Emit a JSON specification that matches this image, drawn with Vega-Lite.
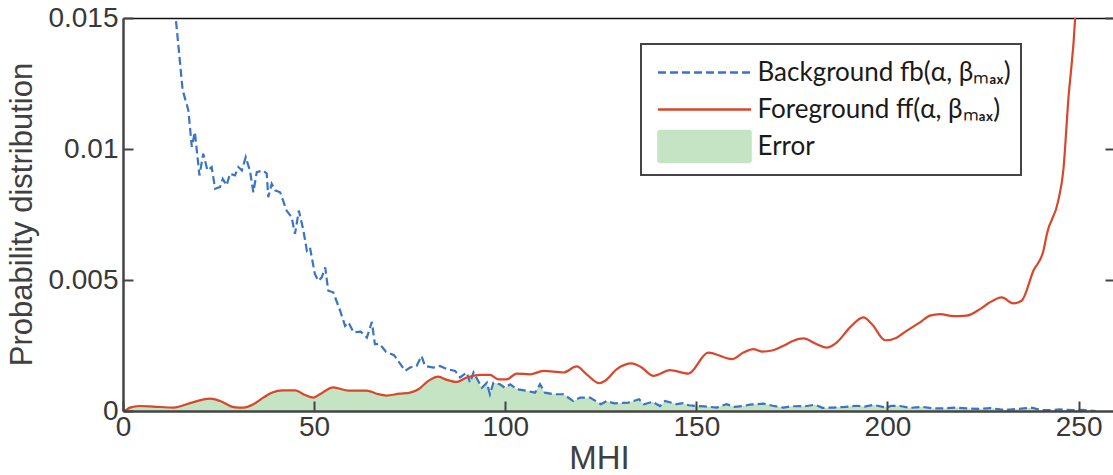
{
  "$schema": "https://vega.github.io/schema/vega-lite/v6.json",
  "width": 990,
  "height": 393,
  "autosize": {"type": "none"},
  "padding": {"left": 123, "top": 18, "right": 0, "bottom": 64},
  "background": "white",
  "config": {
    "view": {"stroke": null},
    "font": "Liberation Sans",
    "axis": {"grid": false, "labelFlush": false, "labelOverlap": false}
  },
  "datasets": {
    "background": [
      {"mhi": 1, "p": 0.04}, {"mhi": 5, "p": 0.03}, {"mhi": 10, "p": 0.0205},
      {"mhi": 13.8, "p": 0.015}, {"mhi": 15.6, "p": 0.01225}, {"mhi": 17.1, "p": 0.01148},
      {"mhi": 18.0, "p": 0.01008}, {"mhi": 18.8, "p": 0.01065}, {"mhi": 20.0, "p": 0.00899},
      {"mhi": 21.0, "p": 0.00982}, {"mhi": 22.1, "p": 0.00918}, {"mhi": 23.2, "p": 0.00931},
      {"mhi": 24.1, "p": 0.00848}, {"mhi": 25.4, "p": 0.00855}, {"mhi": 26.1, "p": 0.00886},
      {"mhi": 27.1, "p": 0.00861}, {"mhi": 28.0, "p": 0.00906}, {"mhi": 29.3, "p": 0.00899},
      {"mhi": 30.2, "p": 0.00931}, {"mhi": 31.1, "p": 0.00918}, {"mhi": 32.1, "p": 0.00969},
      {"mhi": 33.2, "p": 0.00918}, {"mhi": 34.1, "p": 0.00835}, {"mhi": 35.0, "p": 0.00912},
      {"mhi": 36.7, "p": 0.00918}, {"mhi": 37.6, "p": 0.00906}, {"mhi": 38.0, "p": 0.00816},
      {"mhi": 38.9, "p": 0.00867}, {"mhi": 39.8, "p": 0.00842}, {"mhi": 41.1, "p": 0.00835},
      {"mhi": 42.8, "p": 0.00765}, {"mhi": 44.1, "p": 0.0074}, {"mhi": 45.0, "p": 0.00676},
      {"mhi": 46.0, "p": 0.00765}, {"mhi": 47.2, "p": 0.00689}, {"mhi": 48.1, "p": 0.00612},
      {"mhi": 48.9, "p": 0.00625}, {"mhi": 50.2, "p": 0.00523}, {"mhi": 51.1, "p": 0.00497},
      {"mhi": 52.0, "p": 0.0051}, {"mhi": 52.9, "p": 0.00548}, {"mhi": 53.7, "p": 0.00459},
      {"mhi": 55.0, "p": 0.00453}, {"mhi": 56.8, "p": 0.00383}, {"mhi": 58.1, "p": 0.00325},
      {"mhi": 59.0, "p": 0.00338}, {"mhi": 60.3, "p": 0.003}, {"mhi": 62.2, "p": 0.00303},
      {"mhi": 63.8, "p": 0.0028}, {"mhi": 65.1, "p": 0.0034}, {"mhi": 65.9, "p": 0.00255},
      {"mhi": 67.2, "p": 0.00255}, {"mhi": 68.8, "p": 0.00226}, {"mhi": 70.9, "p": 0.00213},
      {"mhi": 72.3, "p": 0.00185}, {"mhi": 73.8, "p": 0.00153}, {"mhi": 75.1, "p": 0.00166},
      {"mhi": 76.8, "p": 0.00172}, {"mhi": 78.1, "p": 0.0021}, {"mhi": 79.0, "p": 0.00172},
      {"mhi": 81.2, "p": 0.00166}, {"mhi": 82.9, "p": 0.00172}, {"mhi": 84.7, "p": 0.0016},
      {"mhi": 86.9, "p": 0.00153}, {"mhi": 88.2, "p": 0.00128}, {"mhi": 89.9, "p": 0.00147},
      {"mhi": 90.8, "p": 0.00108}, {"mhi": 91.7, "p": 0.00147}, {"mhi": 93.9, "p": 0.00089},
      {"mhi": 95.2, "p": 0.00108}, {"mhi": 96.0, "p": 0.00064}, {"mhi": 96.9, "p": 0.00108},
      {"mhi": 98.6, "p": 0.00102}, {"mhi": 99.9, "p": 0.00089}, {"mhi": 101.3, "p": 0.00102},
      {"mhi": 103.0, "p": 0.00083}, {"mhi": 105.6, "p": 0.00077}, {"mhi": 107.8, "p": 0.0007},
      {"mhi": 109.1, "p": 0.00102}, {"mhi": 110.4, "p": 0.0007}, {"mhi": 112.6, "p": 0.00064},
      {"mhi": 115.2, "p": 0.00064}, {"mhi": 117.8, "p": 0.00038}, {"mhi": 119.6, "p": 0.00051},
      {"mhi": 122.2, "p": 0.00051}, {"mhi": 125.0, "p": 0.00026}, {"mhi": 126.6, "p": 0.00038},
      {"mhi": 128.5, "p": 0.00029}, {"mhi": 132.2, "p": 0.00032}, {"mhi": 135.0, "p": 0.00045},
      {"mhi": 136.3, "p": 0.00026}, {"mhi": 138.5, "p": 0.00035}, {"mhi": 140.5, "p": 0.00019},
      {"mhi": 141.8, "p": 0.00038}, {"mhi": 144.9, "p": 0.00026}, {"mhi": 146.5, "p": 0.0003},
      {"mhi": 148.0, "p": 0.00022}, {"mhi": 150.1, "p": 0.00019}, {"mhi": 152.0, "p": 0.00018},
      {"mhi": 155.3, "p": 0.00013}, {"mhi": 157.9, "p": 0.00026}, {"mhi": 160.0, "p": 0.00016},
      {"mhi": 162.3, "p": 0.00019}, {"mhi": 164.0, "p": 0.00024}, {"mhi": 167.5, "p": 0.00028},
      {"mhi": 170.0, "p": 0.0002}, {"mhi": 172.8, "p": 0.00013}, {"mhi": 175.0, "p": 0.00018},
      {"mhi": 178.9, "p": 0.00019}, {"mhi": 181.0, "p": 0.00024}, {"mhi": 183.0, "p": 0.00012},
      {"mhi": 185.8, "p": 0.00013}, {"mhi": 189.0, "p": 0.00016}, {"mhi": 192.0, "p": 0.0002},
      {"mhi": 194.0, "p": 0.00017}, {"mhi": 196.3, "p": 0.00023}, {"mhi": 199.8, "p": 0.00013},
      {"mhi": 201.0, "p": 0.0002}, {"mhi": 203.3, "p": 0.00019}, {"mhi": 206.0, "p": 0.00012},
      {"mhi": 209.0, "p": 0.00016}, {"mhi": 212.0, "p": 0.0001}, {"mhi": 215.0, "p": 0.0001},
      {"mhi": 218.0, "p": 0.00013}, {"mhi": 220.7, "p": 0.0001}, {"mhi": 224.0, "p": 0.00008},
      {"mhi": 227.0, "p": 0.00011}, {"mhi": 229.5, "p": 0.00006}, {"mhi": 232.0, "p": 0.00005},
      {"mhi": 235.6, "p": 0.0001}, {"mhi": 238.0, "p": 0.00012}, {"mhi": 240.0, "p": 0.00004},
      {"mhi": 242.5, "p": 0.00003}, {"mhi": 245.0, "p": 0.00006}, {"mhi": 248.6, "p": 0.00003},
      {"mhi": 251.0, "p": 0.00004}, {"mhi": 254.5, "p": 0.0}
    ],
    "foreground": [
      {"mhi": 0, "p": 0}, {"mhi": 0.5, "p": 0.00002}, {"mhi": 1.8, "p": 0.00013},
      {"mhi": 4.4, "p": 0.00019}, {"mhi": 7.9, "p": 0.00017}, {"mhi": 13.2, "p": 0.00013},
      {"mhi": 18.4, "p": 0.00034}, {"mhi": 22.8, "p": 0.00047}, {"mhi": 25.4, "p": 0.00038},
      {"mhi": 28.9, "p": 0.00015}, {"mhi": 31.5, "p": 0.00013}, {"mhi": 34.1, "p": 0.00026},
      {"mhi": 36.7, "p": 0.00051}, {"mhi": 38.9, "p": 0.0007}, {"mhi": 41.9, "p": 0.00079},
      {"mhi": 45.0, "p": 0.00079}, {"mhi": 47.6, "p": 0.00061}, {"mhi": 49.8, "p": 0.00051},
      {"mhi": 51.5, "p": 0.00064}, {"mhi": 55.0, "p": 0.0009}, {"mhi": 59.0, "p": 0.00078},
      {"mhi": 63.8, "p": 0.00078}, {"mhi": 66.4, "p": 0.00066}, {"mhi": 69.0, "p": 0.00059},
      {"mhi": 72.3, "p": 0.00066}, {"mhi": 75.1, "p": 0.0007}, {"mhi": 77.3, "p": 0.00083},
      {"mhi": 79.9, "p": 0.00115}, {"mhi": 82.5, "p": 0.00131}, {"mhi": 84.7, "p": 0.00119},
      {"mhi": 87.3, "p": 0.00111}, {"mhi": 89.9, "p": 0.00128}, {"mhi": 93.4, "p": 0.00138},
      {"mhi": 96.0, "p": 0.00138}, {"mhi": 98.2, "p": 0.00121}, {"mhi": 100.4, "p": 0.00121},
      {"mhi": 103.0, "p": 0.00143}, {"mhi": 106.5, "p": 0.0014}, {"mhi": 110.0, "p": 0.00153},
      {"mhi": 115.2, "p": 0.00147}, {"mhi": 118.7, "p": 0.0017}, {"mhi": 121.3, "p": 0.0014},
      {"mhi": 124.6, "p": 0.00106}, {"mhi": 126.1, "p": 0.00115}, {"mhi": 129.2, "p": 0.0016},
      {"mhi": 133.1, "p": 0.00182}, {"mhi": 135.5, "p": 0.00168}, {"mhi": 138.8, "p": 0.00134},
      {"mhi": 143.1, "p": 0.00156}, {"mhi": 147.9, "p": 0.00143}, {"mhi": 153.1, "p": 0.00223},
      {"mhi": 159.3, "p": 0.00198}, {"mhi": 162.3, "p": 0.00223}, {"mhi": 164.9, "p": 0.00236},
      {"mhi": 167.1, "p": 0.00227}, {"mhi": 170.1, "p": 0.00232}, {"mhi": 172.8, "p": 0.00249},
      {"mhi": 175.4, "p": 0.00268}, {"mhi": 178.0, "p": 0.00277}, {"mhi": 181.5, "p": 0.00255},
      {"mhi": 184.1, "p": 0.00242}, {"mhi": 186.7, "p": 0.00261}, {"mhi": 190.2, "p": 0.00319},
      {"mhi": 193.7, "p": 0.00357}, {"mhi": 195.9, "p": 0.00332}, {"mhi": 199.4, "p": 0.0027},
      {"mhi": 202.4, "p": 0.0028}, {"mhi": 205.0, "p": 0.00306}, {"mhi": 208.5, "p": 0.00338},
      {"mhi": 211.1, "p": 0.00364}, {"mhi": 213.8, "p": 0.0037}, {"mhi": 217.2, "p": 0.00362},
      {"mhi": 220.7, "p": 0.00364}, {"mhi": 224.2, "p": 0.00389}, {"mhi": 226.4, "p": 0.00411},
      {"mhi": 229.9, "p": 0.00434}, {"mhi": 232.9, "p": 0.00411}, {"mhi": 235.1, "p": 0.00421},
      {"mhi": 238.2, "p": 0.00536}, {"mhi": 240.8, "p": 0.00612}, {"mhi": 241.7, "p": 0.00676},
      {"mhi": 244.7, "p": 0.00804}, {"mhi": 246.0, "p": 0.00918}, {"mhi": 247.3, "p": 0.01186},
      {"mhi": 249.1, "p": 0.015}, {"mhi": 250.0, "p": 0.018}
    ],
    "error": [
      {"mhi": 0, "p": 0}, {"mhi": 0.5, "p": 0.00002}, {"mhi": 1.8, "p": 0.00013},
      {"mhi": 4.4, "p": 0.00019}, {"mhi": 7.9, "p": 0.00017}, {"mhi": 13.2, "p": 0.00013},
      {"mhi": 18.4, "p": 0.00034}, {"mhi": 22.8, "p": 0.00047}, {"mhi": 25.4, "p": 0.00038},
      {"mhi": 28.9, "p": 0.00015}, {"mhi": 31.5, "p": 0.00013}, {"mhi": 34.1, "p": 0.00026},
      {"mhi": 36.7, "p": 0.00051}, {"mhi": 38.9, "p": 0.0007}, {"mhi": 41.9, "p": 0.00079},
      {"mhi": 45.0, "p": 0.00079}, {"mhi": 47.6, "p": 0.00061}, {"mhi": 49.8, "p": 0.00051},
      {"mhi": 51.5, "p": 0.00064}, {"mhi": 55.0, "p": 0.0009}, {"mhi": 59.0, "p": 0.00078},
      {"mhi": 63.8, "p": 0.00078}, {"mhi": 66.4, "p": 0.00066}, {"mhi": 69.0, "p": 0.00059},
      {"mhi": 72.3, "p": 0.00066}, {"mhi": 75.1, "p": 0.0007}, {"mhi": 77.3, "p": 0.00083},
      {"mhi": 79.9, "p": 0.00115}, {"mhi": 82.5, "p": 0.00131}, {"mhi": 84.7, "p": 0.00119},
      {"mhi": 87.3, "p": 0.00111}, {"mhi": 89.9, "p": 0.00128}, {"mhi": 90.8, "p": 0.00108},
      {"mhi": 91.7, "p": 0.00133}, {"mhi": 93.9, "p": 0.00089},
      {"mhi": 95.2, "p": 0.00108}, {"mhi": 96.0, "p": 0.00064}, {"mhi": 96.9, "p": 0.00108},
      {"mhi": 98.6, "p": 0.00102}, {"mhi": 99.9, "p": 0.00089}, {"mhi": 101.3, "p": 0.00102},
      {"mhi": 103.0, "p": 0.00083}, {"mhi": 105.6, "p": 0.00077}, {"mhi": 107.8, "p": 0.0007},
      {"mhi": 109.1, "p": 0.00102}, {"mhi": 110.4, "p": 0.0007}, {"mhi": 112.6, "p": 0.00064},
      {"mhi": 115.2, "p": 0.00064}, {"mhi": 117.8, "p": 0.00038}, {"mhi": 119.6, "p": 0.00051},
      {"mhi": 122.2, "p": 0.00051}, {"mhi": 125.0, "p": 0.00026}, {"mhi": 126.6, "p": 0.00038},
      {"mhi": 128.5, "p": 0.00029}, {"mhi": 132.2, "p": 0.00032}, {"mhi": 135.0, "p": 0.00045},
      {"mhi": 136.3, "p": 0.00026}, {"mhi": 138.5, "p": 0.00035}, {"mhi": 140.5, "p": 0.00019},
      {"mhi": 141.8, "p": 0.00038}, {"mhi": 144.9, "p": 0.00026}, {"mhi": 146.5, "p": 0.0003},
      {"mhi": 148.0, "p": 0.00022}, {"mhi": 150.1, "p": 0.00019}, {"mhi": 152.0, "p": 0.00018},
      {"mhi": 155.3, "p": 0.00013}, {"mhi": 157.9, "p": 0.00026}, {"mhi": 160.0, "p": 0.00016},
      {"mhi": 162.3, "p": 0.00019}, {"mhi": 164.0, "p": 0.00024}, {"mhi": 167.5, "p": 0.00028},
      {"mhi": 170.0, "p": 0.0002}, {"mhi": 172.8, "p": 0.00013}, {"mhi": 175.0, "p": 0.00018},
      {"mhi": 178.9, "p": 0.00019}, {"mhi": 181.0, "p": 0.00024}, {"mhi": 183.0, "p": 0.00012},
      {"mhi": 185.8, "p": 0.00013}, {"mhi": 189.0, "p": 0.00016}, {"mhi": 192.0, "p": 0.0002},
      {"mhi": 194.0, "p": 0.00017}, {"mhi": 196.3, "p": 0.00023}, {"mhi": 199.8, "p": 0.00013},
      {"mhi": 201.0, "p": 0.0002}, {"mhi": 203.3, "p": 0.00019}, {"mhi": 206.0, "p": 0.00012},
      {"mhi": 209.0, "p": 0.00016}, {"mhi": 212.0, "p": 0.0001}, {"mhi": 215.0, "p": 0.0001},
      {"mhi": 218.0, "p": 0.00013}, {"mhi": 220.7, "p": 0.0001}, {"mhi": 224.0, "p": 0.00008},
      {"mhi": 227.0, "p": 0.00011}, {"mhi": 229.5, "p": 0.00006}, {"mhi": 232.0, "p": 0.00005},
      {"mhi": 235.6, "p": 0.0001}, {"mhi": 238.0, "p": 0.00012}, {"mhi": 240.0, "p": 0.00004},
      {"mhi": 242.5, "p": 0.00003}, {"mhi": 245.0, "p": 0.00006}, {"mhi": 248.6, "p": 0.00003},
      {"mhi": 251.0, "p": 0.00004}, {"mhi": 254.5, "p": 0.0}
    ]
  },
  "resolve": {"axis": {"x": "independent", "y": "independent"}},
  "layer": [
    {
      "data": {"name": "error"},
      "transform": [{"calculate": "'Error'", "as": "series"}],
      "mark": {"type": "area", "clip": true, "interpolate": "linear"},
      "encoding": {
        "x": {
          "field": "mhi", "type": "quantitative",
          "scale": {"domain": [0, 259], "nice": false, "zero": false},
          "axis": {
            "orient": "bottom", "zindex": 1,
            "values": [0, 50, 100, 150, 200, 250],
            "domainColor": "#444", "domainWidth": 2.5,
            "tickColor": "#444", "tickWidth": 2, "tickSize": -10,
            "labelFontSize": 28, "labelColor": "#383838", "labelPadding": 12,
            "title": "MHI", "titleFontSize": 33, "titleFontWeight": "normal",
            "titleColor": "#404040", "titleX": 476, "titleY": 57,
            "titleBaseline": "alphabetic", "titleAnchor": "middle", "titleAlign": "center"
          }
        },
        "y": {
          "field": "p", "type": "quantitative",
          "scale": {"domain": [0, 0.015], "nice": false},
          "axis": {
            "orient": "left", "zindex": 1,
            "values": [0, 0.005, 0.01, 0.015],
            "labelExpr": "toString(datum.value)",
            "domainColor": "#444", "domainWidth": 2.5,
            "tickColor": "#444", "tickWidth": 2, "tickSize": -10,
            "labelFontSize": 28, "labelColor": "#383838", "labelPadding": 15,
            "title": "Probability distribution", "titleFontSize": 31,
            "titleFontWeight": "normal", "titleColor": "#404040",
            "titleX": -92, "titleY": 196, "titleBaseline": "alphabetic",
            "titleAnchor": "middle", "titleAlign": "center"
          }
        },
        "color": {
          "field": "series", "type": "nominal",
          "scale": {
            "domain": ["Background", "Foreground", "Error"],
            "range": ["#3a74c4", "#d9462a", "#c4e4c4"]
          },
          "legend": {
            "orient": "none", "legendX": 518, "legendY": 26,
            "title": null,
            "strokeColor": "#444", "fillColor": "white",
            "padding": 10,
            "labelFontSize": 26, "labelColor": "#1a1a1a", "labelFont": "Lato",
            "labelLimit": 500,
            "labelExpr": "datum.value === 'Background' ? 'Background fb(α, βₘₐₓ)' : datum.value === 'Foreground' ? 'Foreground ff(α, βₘₐₓ)' : 'Error'",
            "symbolSize": 400, "symbolOffset": 40.5, "labelOffset": 40,
            "clipHeight": 37, "rowPadding": 0,
            "encode": {
              "legend": {"update": {"strokeWidth": {"value": 2}}},
              "symbols": {
                "update": {
                  "shape": {"signal": "datum.value === 'Error' ? 'M-4.6,-1.55H4.6V1.55H-4.6Z' : 'M-4.65,0H4.65'"},
                  "fill": {"signal": "datum.value === 'Error' ? '#c4e4c4' : 'transparent'"},
                  "stroke": {"signal": "datum.value === 'Background' ? '#3a74c4' : datum.value === 'Foreground' ? '#d9462a' : 'transparent'"},
                  "strokeDash": {"signal": "datum.value === 'Background' ? [8, 4] : [1, 0]"},
                  "strokeWidth": {"value": 2.5},
                  "size": {"value": 400},
                  "opacity": {"value": 1}
                }
              }
            }
          }
        }
      }
    },
    {
      "data": {"name": "background"},
      "transform": [{"calculate": "'Background'", "as": "series"}],
      "mark": {"type": "line", "clip": true, "strokeWidth": 2.2, "strokeDash": [8, 4]},
      "encoding": {
        "x": {
          "field": "mhi", "type": "quantitative",
          "axis": {"orient": "top", "labels": false, "ticks": false, "title": null,
                   "domainColor": "#111", "domainWidth": 1.5}
        },
        "y": {
          "field": "p", "type": "quantitative",
          "axis": {"orient": "right", "labels": false, "domain": false, "title": null,
                   "values": [0.005, 0.01, 0.015],
                   "tickColor": "#444", "tickWidth": 2, "tickSize": -8}
        },
        "color": {"field": "series", "type": "nominal"}
      }
    },
    {
      "data": {"name": "foreground"},
      "transform": [{"calculate": "'Foreground'", "as": "series"}],
      "mark": {"type": "line", "clip": true, "strokeWidth": 2.2, "interpolate": "monotone"},
      "encoding": {
        "x": {"field": "mhi", "type": "quantitative", "axis": null},
        "y": {"field": "p", "type": "quantitative", "axis": null},
        "color": {"field": "series", "type": "nominal"}
      }
    }
  ]
}
